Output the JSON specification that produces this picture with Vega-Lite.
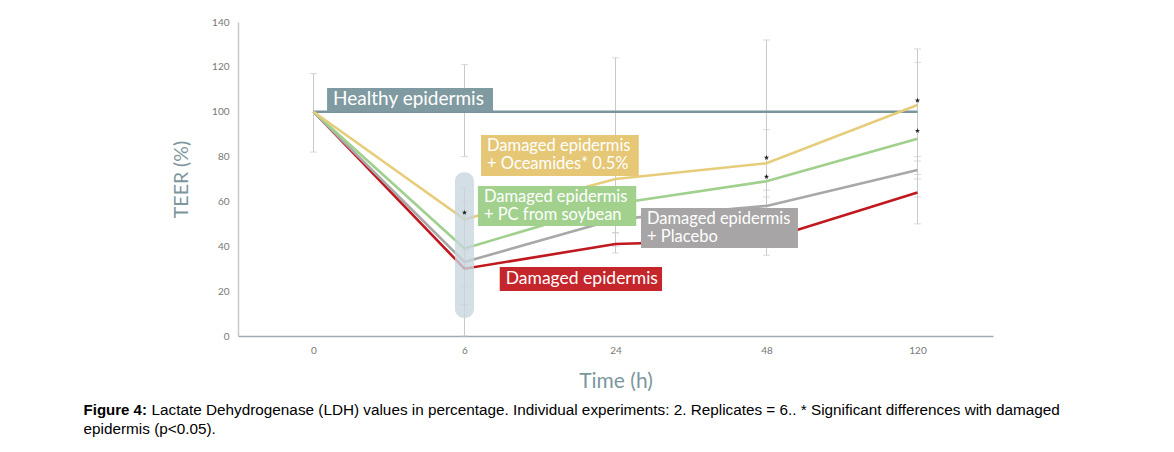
{
  "$schema": "https://vega.github.io/schema/vega-lite/v6.json",
  "autosize": {"type": "none"},
  "padding": {"left": 238, "top": 22, "right": 181, "bottom": 116},
  "width": 755,
  "height": 314,
  "background": "white",
  "config": {"view": {"stroke": null}, "font": "Lato"},
  "title": {
    "text": "Figure 4:",
    "subtitle": [
      "\u200b\u00a0\u00a0\u00a0\u00a0\u00a0\u00a0\u00a0\u00a0\u00a0\u00a0\u00a0\u00a0\u00a0\u00a0\u00a0\u00a0Lactate Dehydrogenase (LDH) values in percentage. Individual experiments: 2. Replicates = 6.. * Significant differences with damaged",
      "epidermis (p<0.05)."
    ],
    "orient": "bottom",
    "anchor": "start",
    "dx": -88,
    "offset": 12,
    "font": "Liberation Sans",
    "fontSize": 15,
    "fontWeight": "bold",
    "color": "#000000",
    "subtitleFont": "Liberation Sans",
    "subtitleFontSize": 15.3,
    "subtitleColor": "#000000",
    "subtitlePadding": -15,
    "subtitleLineHeight": 19
  },
  "data": {
    "values": [
      {"kind": "obs", "series": "Healthy epidermis", "time": 0, "teer": 100, "lo": 82, "hi": 117},
      {"kind": "obs", "series": "Healthy epidermis", "time": 6, "teer": 100, "lo": 80, "hi": 121},
      {"kind": "obs", "series": "Healthy epidermis", "time": 24, "teer": 100},
      {"kind": "obs", "series": "Healthy epidermis", "time": 48, "teer": 100},
      {"kind": "obs", "series": "Healthy epidermis", "time": 120, "teer": 100},
      {"kind": "obs", "series": "Damaged epidermis", "time": 0, "teer": 100},
      {"kind": "obs", "series": "Damaged epidermis", "time": 6, "teer": 30, "lo": 0, "hi": 60},
      {"kind": "obs", "series": "Damaged epidermis", "time": 24, "teer": 41, "lo": 37, "hi": 46},
      {"kind": "obs", "series": "Damaged epidermis", "time": 48, "teer": 43, "lo": 36, "hi": 50},
      {"kind": "obs", "series": "Damaged epidermis", "time": 120, "teer": 64, "lo": 50, "hi": 70},
      {"kind": "obs", "series": "Placebo", "time": 0, "teer": 100},
      {"kind": "obs", "series": "Placebo", "time": 6, "teer": 33, "lo": 14, "hi": 52},
      {"kind": "obs", "series": "Placebo", "time": 24, "teer": 52, "lo": 40, "hi": 64},
      {"kind": "obs", "series": "Placebo", "time": 48, "teer": 58, "lo": 48, "hi": 65},
      {"kind": "obs", "series": "Placebo", "time": 120, "teer": 74, "lo": 62, "hi": 78},
      {"kind": "obs", "series": "PC from soybean", "time": 0, "teer": 100},
      {"kind": "obs", "series": "PC from soybean", "time": 6, "teer": 39, "lo": 22, "hi": 56},
      {"kind": "obs", "series": "PC from soybean", "time": 24, "teer": 59, "lo": 46, "hi": 76},
      {"kind": "obs", "series": "PC from soybean", "time": 48, "teer": 69, "lo": 56, "hi": 132},
      {"kind": "obs", "series": "PC from soybean", "time": 120, "teer": 88, "lo": 72, "hi": 122},
      {"kind": "obs", "series": "Oceamides 0.5%", "time": 0, "teer": 100},
      {"kind": "obs", "series": "Oceamides 0.5%", "time": 6, "teer": 52, "lo": 38, "hi": 66},
      {"kind": "obs", "series": "Oceamides 0.5%", "time": 24, "teer": 70, "lo": 54, "hi": 124},
      {"kind": "obs", "series": "Oceamides 0.5%", "time": 48, "teer": 77, "lo": 62, "hi": 92},
      {"kind": "obs", "series": "Oceamides 0.5%", "time": 120, "teer": 103, "lo": 80, "hi": 128},
      {"kind": "star", "time": 6, "teer": 55},
      {"kind": "star", "time": 24, "teer": 72.5},
      {"kind": "star", "time": 48, "teer": 79.5},
      {"kind": "star", "time": 48, "teer": 71},
      {"kind": "star", "time": 120, "teer": 105},
      {"kind": "star", "time": 120, "teer": 91.5},
      {"kind": "label", "series": "Healthy epidermis", "txt": "Healthy epidermis", "size": "big", "t0": 0.54, "t1": 9.4, "v0": 100, "v1": 110.6},
      {"kind": "label", "series": "Oceamides 0.5%", "txt": "Damaged epidermis\n+ Oceamides* 0.5%", "size": "two", "t0": 7.97, "t1": 27.7, "v0": 71.3, "v1": 89.6},
      {"kind": "label", "series": "PC from soybean", "txt": "Damaged epidermis\n+ PC from soybean", "size": "two", "t0": 7.6, "t1": 27.3, "v0": 49, "v1": 66.9},
      {"kind": "label", "series": "Placebo", "txt": "Damaged epidermis\n+ Placebo", "size": "two", "t0": 28.05, "t1": 63, "v0": 39.2, "v1": 57.1},
      {"kind": "label", "series": "Damaged epidermis", "txt": "Damaged epidermis", "size": "one", "t0": 10.2, "t1": 31.4, "v0": 20.1, "v1": 30.8},
      {"kind": "band", "t0": 5.62, "t1": 7.13, "v0": 8, "v1": 73}
    ]
  },
  "encoding": {
    "x": {
      "type": "quantitative",
      "scale": {"domain": [-3, 0, 6, 24, 48, 120, 156], "range": [0, 75.5, 226.5, 377.5, 528.5, 679.5, 755], "nice": false, "zero": false},
      "axis": {
        "values": [0, 6, 24, 48, 120],
        "title": "Time (h)",
        "grid": false,
        "ticks": false,
        "domainColor": "#9eabaf",
        "domainWidth": 1.5,
        "labelFont": "Lato",
        "labelFontSize": 10,
        "labelColor": "#777777",
        "labelPadding": 9,
        "titleFont": "Lato",
        "titleFontSize": 21,
        "titleFontWeight": "normal",
        "titleColor": "#7d979e",
        "titlePadding": 15
      }
    },
    "y": {
      "type": "quantitative",
      "scale": {"domain": [0, 140], "nice": false},
      "axis": {
        "values": [0, 20, 40, 60, 80, 100, 120, 140],
        "title": "TEER (%)",
        "grid": false,
        "ticks": false,
        "domainColor": "#c8c8c8",
        "domainWidth": 1.5,
        "labelFont": "Lato",
        "labelFontSize": 10,
        "labelColor": "#777777",
        "labelPadding": 9,
        "titleFont": "Lato",
        "titleFontSize": 19.5,
        "titleFontWeight": "normal",
        "titleColor": "#7d969c",
        "titlePadding": 20
      }
    }
  },
  "layer": [
    {
      "transform": [{"filter": "datum.kind === 'obs' && isValid(datum.lo)"}],
      "mark": {"type": "rule", "color": "#c9c9c9", "strokeWidth": 1},
      "encoding": {
        "x": {"field": "time", "type": "quantitative"},
        "y": {"field": "lo", "type": "quantitative"},
        "y2": {"field": "hi"}
      }
    },
    {
      "transform": [{"filter": "datum.kind === 'obs' && isValid(datum.lo)"}, {"fold": ["lo", "hi"], "as": ["end", "val"]}],
      "mark": {"type": "tick", "orient": "horizontal", "color": "#c9c9c9", "size": 7, "thickness": 1},
      "encoding": {
        "x": {"field": "time", "type": "quantitative"},
        "y": {"field": "val", "type": "quantitative"}
      }
    },
    {
      "transform": [{"filter": "datum.kind === 'obs'"}],
      "mark": {"type": "line", "strokeWidth": 2.6},
      "encoding": {
        "x": {"field": "time", "type": "quantitative"},
        "y": {"field": "teer", "type": "quantitative"},
        "color": {
          "field": "series", "type": "nominal", "legend": null,
          "scale": {
            "domain": ["Healthy epidermis", "Damaged epidermis", "Placebo", "PC from soybean", "Oceamides 0.5%"],
            "range": ["#7c949b", "#c0181e", "#a8a8a8", "#a0d08d", "#e6cd7c"]
          }
        }
      }
    },
    {
      "transform": [{"filter": "datum.kind === 'band'"}],
      "mark": {"type": "rect", "fill": "#c8d6de", "opacity": 0.8, "cornerRadius": 9},
      "encoding": {
        "x": {"field": "t0", "type": "quantitative"},
        "x2": {"field": "t1"},
        "y": {"field": "v0", "type": "quantitative"},
        "y2": {"field": "v1"}
      }
    },
    {
      "transform": [{"filter": "datum.kind === 'star'"}],
      "mark": {"type": "point", "shape": "M0,-1L0.235,-0.324L0.951,-0.309L0.38,0.124L0.588,0.809L0,0.4L-0.588,0.809L-0.38,0.124L-0.951,-0.309L-0.235,-0.324Z", "filled": true, "color": "#222222", "size": 30, "opacity": 1},
      "encoding": {
        "x": {"field": "time", "type": "quantitative"},
        "y": {"field": "teer", "type": "quantitative"}
      }
    },
    {
      "transform": [{"filter": "datum.kind === 'label'"}],
      "mark": {"type": "rect"},
      "encoding": {
        "x": {"field": "t0", "type": "quantitative"},
        "x2": {"field": "t1"},
        "y": {"field": "v0", "type": "quantitative"},
        "y2": {"field": "v1"},
        "fill": {
          "field": "series", "type": "nominal", "legend": null,
          "scale": {
            "domain": ["Healthy epidermis", "Damaged epidermis", "Placebo", "PC from soybean", "Oceamides 0.5%"],
            "range": ["#7f9aa1", "#c4262b", "#a7a5a5", "#a2d18e", "#e5c776"]
          }
        }
      }
    },
    {
      "transform": [{"filter": "datum.kind === 'label' && datum.size === 'big'"}],
      "mark": {"type": "text", "align": "left", "baseline": "top", "dx": 6, "dy": 2, "fill": "white", "fontSize": 19, "font": "Lato"},
      "encoding": {
        "x": {"field": "t0", "type": "quantitative"},
        "y": {"field": "v1", "type": "quantitative"},
        "text": {"field": "txt", "type": "nominal"}
      }
    },
    {
      "transform": [{"filter": "datum.kind === 'label' && datum.size === 'one'"}],
      "mark": {"type": "text", "align": "left", "baseline": "top", "dx": 6, "dy": 3, "fill": "white", "fontSize": 17.5, "font": "Lato"},
      "encoding": {
        "x": {"field": "t0", "type": "quantitative"},
        "y": {"field": "v1", "type": "quantitative"},
        "text": {"field": "txt", "type": "nominal"}
      }
    },
    {
      "transform": [{"filter": "datum.kind === 'label' && datum.size === 'two'"}],
      "mark": {"type": "text", "align": "left", "baseline": "top", "dx": 6, "dy": 3, "fill": "white", "fontSize": 16.5, "lineHeight": 18, "lineBreak": "\n", "font": "Lato"},
      "encoding": {
        "x": {"field": "t0", "type": "quantitative"},
        "y": {"field": "v1", "type": "quantitative"},
        "text": {"field": "txt", "type": "nominal"}
      }
    }
  ]
}
